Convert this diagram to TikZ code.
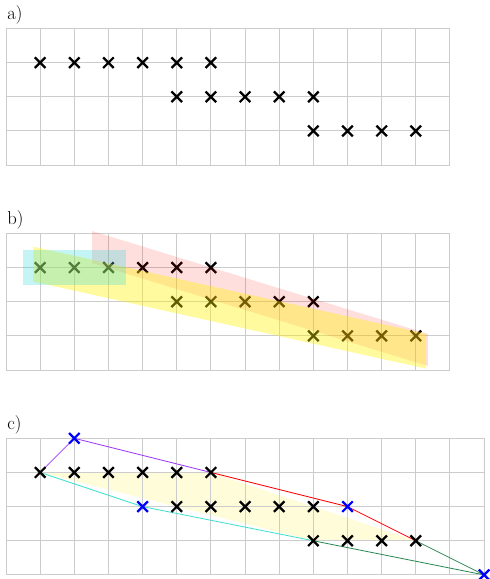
\documentclass[tikz,border=0pt]{standalone}
\definecolor{myviolet}{RGB}{155,60,255}
\definecolor{mygreen}{RGB}{46,139,87}
\definecolor{mycyan}{RGB}{64,224,208}
\definecolor{boxcyan}{RGB}{40,215,215}
\begin{document}
\begin{tikzpicture}[
  gridline/.style={draw=gray!40, line width=0.8pt},
  xm/.pic={\draw[line width=1.9pt] (-0.155,-0.155)--(0.155,0.155) (-0.155,0.155)--(0.155,-0.155);},
  lbl/.style={anchor=base west, inner sep=0pt, font=\fontsize{15.5}{18}\selectfont},
  hull/.style={line width=0.7pt},
]
\useasboundingbox (-0.176,-0.12) rectangle (14.172,16.835);

% ---------- panel a ----------
\begin{scope}[shift={(0,12)}]
  \node[lbl] (la) at (0.03,4.27) {a)};
  \draw[gridline] (0,0) grid (13,4);
  \foreach \x in {1,...,6} \pic at (\x,3) {xm};
  \foreach \x in {5,...,9} \pic at (\x,2) {xm};
  \foreach \x in {9,...,12} \pic at (\x,1) {xm};
\end{scope}

% ---------- panel b ----------
\begin{scope}[shift={(0,6)}]
  \node[lbl] (lb) at (0.03,4.27) {b)};
  \draw[gridline] (0,0) grid (13,4);
  \foreach \x in {1,...,6} \pic at (\x,3) {xm};
  \foreach \x in {5,...,9} \pic at (\x,2) {xm};
  \foreach \x in {9,...,12} \pic at (\x,1) {xm};
  \fill[red, fill opacity=0.13] (2.52,4.07) -- (12.35,1.06) -- (12.35,0.12) -- (2.52,3.13) -- cycle;
  \fill[yellow, fill opacity=0.38] (0.8,3.61) -- (12.3,1.06) -- (12.3,0.04) -- (0.8,2.59) -- cycle;
  \fill[boxcyan, fill opacity=0.27] (0.5,2.48) rectangle (3.5,3.5);
\end{scope}

% ---------- panel c ----------
\begin{scope}
  \node[lbl] (lc) at (0.03,4.27) {c)};
  \coordinate (p1) at (1,3);
  \coordinate (q) at (2,4);
  \coordinate (p6) at (6,3);
  \coordinate (r) at (10,2);
  \coordinate (p12) at (12,1);
  \coordinate (s) at (14,0);
  \coordinate (p9) at (9,1);
  \coordinate (t) at (4,2);
  \fill[yellow!15] (p1) -- (p6) -- (p12) -- (p9) -- cycle;
  \draw[gridline] (0,0) grid (14,4);
  \draw[hull, myviolet] (p1) -- (q) -- (p6);
  \draw[hull, red] (p6) -- (r) -- (p12);
  \draw[hull, mygreen] (p12) -- (s) -- (p9);
  \draw[hull, mycyan] (p9) -- (t) -- (p1);
  \foreach \x in {1,...,6} \pic at (\x,3) {xm};
  \foreach \x in {5,...,9} \pic at (\x,2) {xm};
  \foreach \x in {9,...,12} \pic at (\x,1) {xm};
  \pic[blue] at (q) {xm};
  \pic[blue] at (t) {xm};
  \pic[blue] at (r) {xm};
  \pic[blue] at (s) {xm};
\end{scope}
\end{tikzpicture}
\end{document}
